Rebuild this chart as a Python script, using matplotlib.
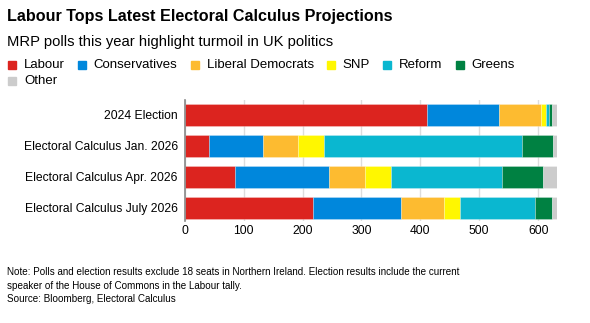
import matplotlib
matplotlib.use("Agg")
from matplotlib import pyplot as plt
from matplotlib.patches import Rectangle

plt.rcParams["font.family"] = ["Liberation Sans", "DejaVu Sans"]

rows = ["2024 Election", "Electoral Calculus Jan. 2026",
        "Electoral Calculus Apr. 2026", "Electoral Calculus July 2026"]
parties = ["Labour", "Conservatives", "Liberal Democrats", "SNP", "Reform", "Greens", "Other"]
colors = ["#dc241f", "#0087dc", "#fdbb30", "#fff700", "#0ab7d0", "#008142", "#cccccc"]

labour = [412, 42, 85, 217]
conservatives = [121, 91, 160, 150]
lib_dems = [72, 60, 61, 73]
snp = [9, 44, 44, 27]
reform = [5, 336, 188, 128]
greens = [4, 52, 70, 29]
other = [9, 7, 24, 8]
series = [labour, conservatives, lib_dems, snp, reform, greens, other]

W, H = 590, 323
fig = plt.figure(figsize=(W / 100, H / 100), dpi=100)
ax = fig.add_axes([184.7 / W, 1 - 221 / H, (557 - 184.7) / W, (221 - 100) / H])

left = [0] * len(rows)
for name, vals, c in zip(parties, series, colors):
  ax.barh(range(len(rows)), vals, left=left, height=0.7, color=c,
          edgecolor=(1, 1, 1, 0.35), linewidth=0.5, label=name, zorder=2)
  left = [l + v for l, v in zip(left, vals)]

ax.set_xlim(0, 632)
ax.set_ylim(3.42, -0.48)
ax.set_yticks(range(len(rows)))
ax.set_yticklabels(rows, fontsize=8.7, color="black")
ax.set_xticks([0, 100, 200, 300, 400, 500, 600])
ax.tick_params(axis="both", length=0, labelsize=8.7, colors="black")
ax.tick_params(axis="y", pad=5)
ax.tick_params(axis="x", pad=3)
ax.grid(axis="x", color="#dddddd", linewidth=1, zorder=0)
for s in ["top", "right", "bottom"]:
  ax.spines[s].set_visible(False)
ax.spines["left"].set_color("#888888")
ax.spines["left"].set_linewidth(1.2)
ax.spines["left"].set_zorder(3)

fig.text(7 / W, 1 - 17 / H, "Labour Tops Latest Electoral Calculus Projections",
         fontsize=11.6, fontweight="bold", va="center", ha="left")
fig.text(7 / W, 1 - 42 / H, "MRP polls this year highlight turmoil in UK politics",
         fontsize=10.6, va="center", ha="left")

# legend, drawn by hand so it wraps like the original
fig.canvas.draw()
renderer = fig.canvas.get_renderer()
x, y = 8, 64.5
max_x = 530
for name, c in zip(parties, colors):
  t = fig.text(0, 0, name, fontsize=9.5, va="center", ha="left")
  w = t.get_window_extent(renderer).width
  if x + 16 + w > max_x:
    x = 8
    y += 16
  fig.patches.append(Rectangle((x / W, 1 - (y + 4) / H), 8 / W, 8 / H,
                               transform=fig.transFigure, color=c, figure=fig))
  t.set_position(((x + 16) / W, 1 - y / H))
  x += 16 + w + 13

fig.text(7 / W, 1 - 267 / H,
         "Note: Polls and election results exclude 18 seats in Northern Ireland. Election results include the current\n"
         "speaker of the House of Commons in the Labour tally.\n"
         "Source: Bloomberg, Electoral Calculus",
         fontsize=7.15, va="top", ha="left", linespacing=1.45,
         transform=fig.transFigure)

fig.savefig("out.png", dpi=100)
